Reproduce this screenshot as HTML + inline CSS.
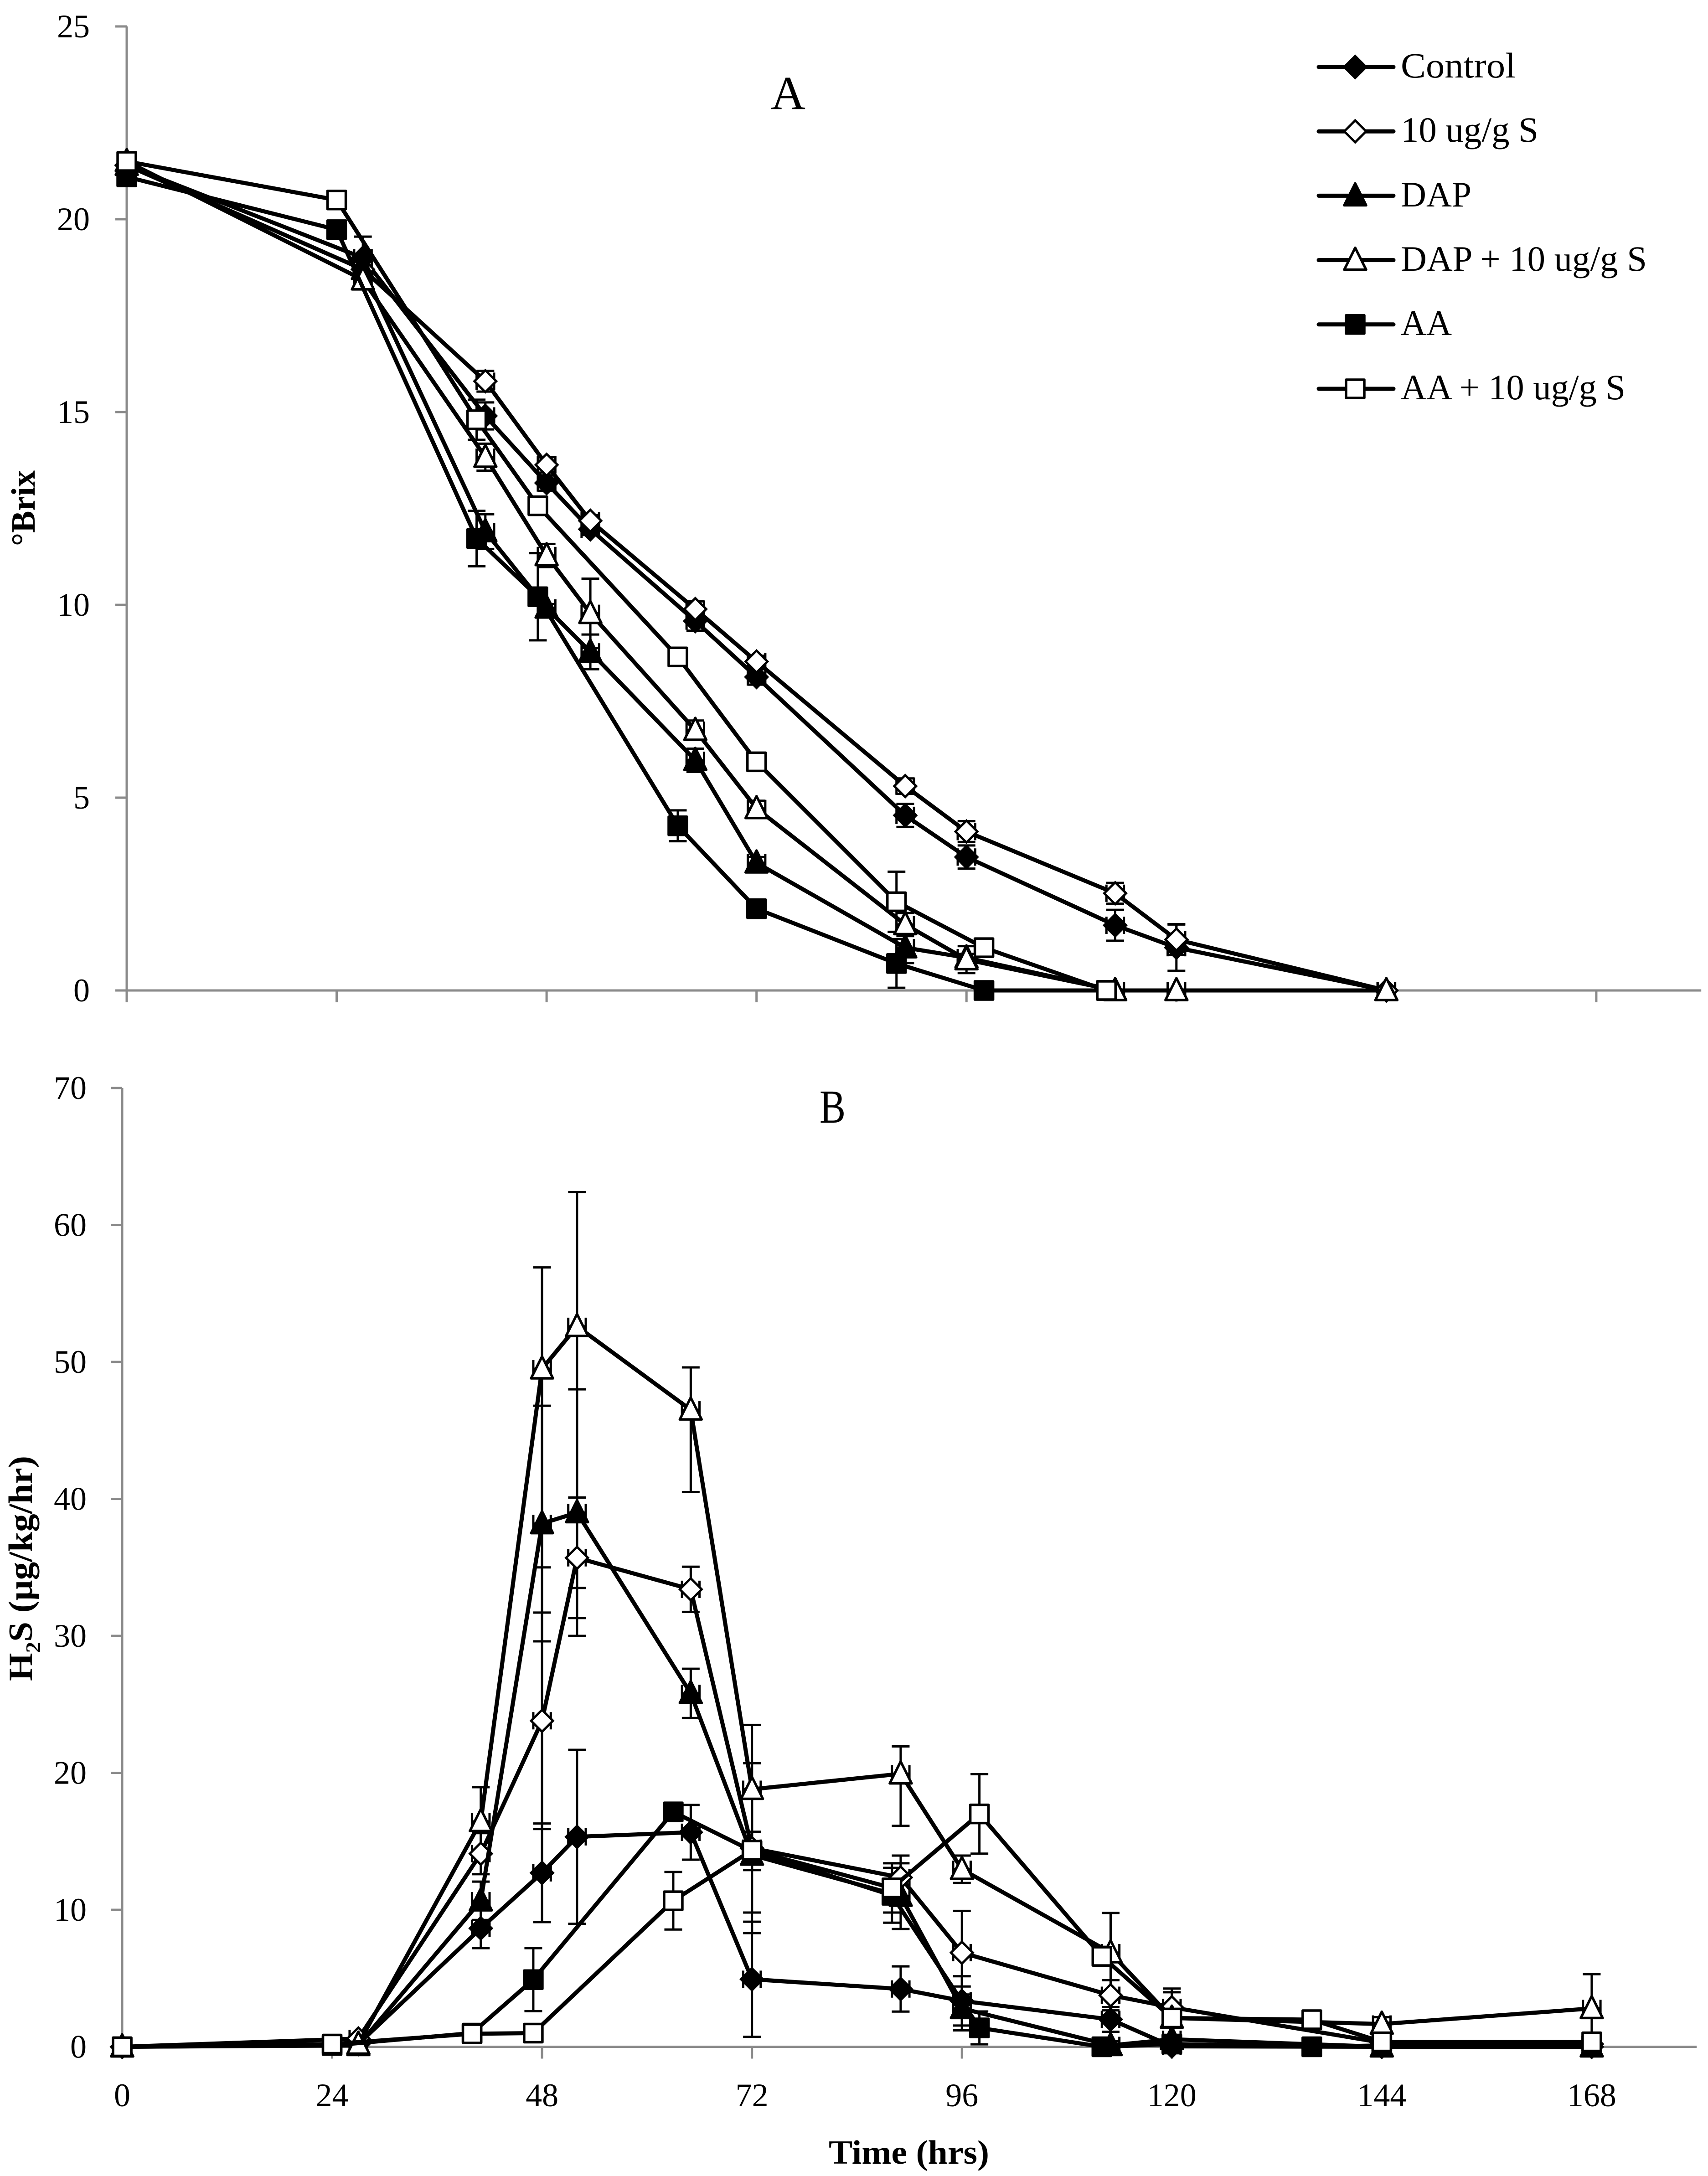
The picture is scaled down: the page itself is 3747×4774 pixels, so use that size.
<!DOCTYPE html>
<html>
<head>
<meta charset="utf-8">
<title>Brix and H2S over time</title>
<style>
html,body{margin:0;padding:0;background:#fff}
svg{display:block}
text{font-family:"Liberation Serif",serif;fill:#000}
</style>
</head>
<body>
<svg id="chart" xmlns="http://www.w3.org/2000/svg" width="3747" height="4774" viewBox="0 0 3747 4774">
<rect x="0" y="0" width="3747" height="4774" fill="#fff"/>
<text x="1691" y="239" font-size="104" textLength="76" lengthAdjust="spacingAndGlyphs">A</text>
<text x="1798" y="2463" font-size="104" textLength="57" lengthAdjust="spacingAndGlyphs">B</text>
<text transform="translate(76,1198) rotate(-90)" font-size="74" font-weight="bold" textLength="166" lengthAdjust="spacingAndGlyphs">°Brix</text>
<text transform="translate(70,3688) rotate(-90)" font-size="74" font-weight="bold" textLength="494" lengthAdjust="spacingAndGlyphs">H<tspan dy="18" font-size="46">2</tspan><tspan dy="-18">S (µg/kg/hr)</tspan></text>
<text x="1818" y="4747" font-size="74" font-weight="bold" textLength="352" lengthAdjust="spacingAndGlyphs">Time (hrs)</text>
<g id="plots"></g>
<g id="legend"></g>
<text x="3073" y="170" font-size="78" textLength="252" lengthAdjust="spacingAndGlyphs">Control</text>
<text x="3073" y="311" font-size="78" textLength="302" lengthAdjust="spacingAndGlyphs">10 ug/g S</text>
<text x="3073" y="453" font-size="78" textLength="155" lengthAdjust="spacingAndGlyphs">DAP</text>
<text x="3073" y="594" font-size="78" textLength="540" lengthAdjust="spacingAndGlyphs">DAP + 10 ug/g S</text>
<text x="3073" y="735" font-size="78" textLength="112" lengthAdjust="spacingAndGlyphs">AA</text>
<text x="3073" y="876" font-size="78" textLength="493" lengthAdjust="spacingAndGlyphs">AA + 10 ug/g S</text>
</svg>
<script>
// Sampling times (hours)
const brixTimesDiamondTriangle = [0,27,41,48,53,65,72,89,96,113,120,144];
const brixTimesSquare = [0,24,40,47,63,72,88,98,112];
const h2sTimesDiamondTriangle = [0,27,41,48,52,65,72,89,96,113,120,144,168];
const h2sTimesSquare = [0,24,40,47,63,72,88,98,112,120,136,144,168];

// Panel A: degrees Brix and y error (single value = symmetric)
const brixControl = [21.4,19.0,14.9,13.16,11.96,9.58,8.13,4.54,3.46,1.69,1.11,0];
const brixControlErr = [0,0.55,0.35,0.2,0.15,0.25,0.2,0.3,0.3,0.4,0.6,0];
const brixS10 = [21.4,18.7,15.8,13.63,12.18,9.89,8.53,5.3,4.12,2.52,1.32,0];
const brixS10Err = [0,0.1,0.27,0.2,0.15,0.2,0.15,0.2,0.27,0.27,0.4,0];
const brixDap = [21.4,18.7,11.9,9.92,8.78,5.97,3.31,1.11,0.85,0];
const brixDapErr = [0,0.1,0.45,0.1,0.45,0.3,0.15,0.4,0.1,0];
const brixDapS10 = [21.5,18.43,13.83,11.28,9.78,6.75,4.72,1.71,0.8,0,0,0];
const brixDapS10Err = [0,0.15,0.35,0.3,0.9,0.25,0.2,0.3,0.35,0,0,0];
const brixAa = [21.1,19.73,11.72,10.21,4.27,2.12,0.7,0,0];
const brixAaErr = [0,0.1,0.72,1.13,0.4,0.15,0.63,0,0];
const brixAaS10 = [21.5,20.5,14.8,12.57,8.65,5.93,2.3,1.11,0];
const brixAaS10Err = [0,0.1,0.52,0.15,0.1,0.1,0.78,0.1,0];

// Panel B: H2S rate and y error ([up, down] where the bars are uneven)
const h2sControl = [0,0.2,8.65,12.7,15.33,15.66,4.93,4.22,3.35,2,0.03,0,0];
const h2sControlErr = [0,0.1,1.45,3.6,6.35,2,4.2,1.65,1.8,0.9,0.3,0,0];
const h2sS10 = [0,0.6,14.1,23.8,35.7,33.4,14.5,12.36,6.87,3.76,2.88,0.3,0.2];
const h2sS10Err = [0,0.2,1.5,7.9,4.4,1.65,6.2,1.6,3.05,1.1,1.1,0,0];
const h2sDap = [0,0.1,10.66,38.2,39,25.8,14,11,2.8,0.1,0.55,0,0];
const h2sDapErr = [0,0.1,1.4,8.6,9,1.8,4.2,2.4,1.6,0.3,0.3,0,0];
const h2sDapS10 = [0,0.2,16.45,49.5,52.6,46.5,18.8,19.93,12.96,6.87,2.1,1.66,2.8];
const h2sDapS10Err = [0,0.1,2.5,[7.4,14.5],[9.8,19.1],[3.1,6],4.7,[2,3.8],1,2.9,2.15,0.5,2.5];
const h2sAa = [0,0.1,1,4.9,17.15,14.3,11.06,1.38,0,0.2,0,0.1,0.1];
const h2sAaErr = [0,0,0.2,2.3,0.4,1.4,2,1.2,0,0.2,0,0,0];
const h2sAaS10 = [0,0.2,0.95,1,10.66,14.35,11.6,17,6.6,2.1,1.98,0.36,0.36];
const h2sAaS10Err = [0,0,0.1,0.1,2.1,0.5,1.8,2.9,0.7,0.3,0,0,0];

// Axis ticks and labels
const brixTicks = [0,5,10,15,20,25];
const h2sTicks = [0,10,20,30,40,50,60,70];
const timeTicks = [0,24,48,72,96,120,144,168];
const timeErrorHours = 1;

const SVGNS = 'http://www.w3.org/2000/svg';
function el(parent, tag, attrs) {
  const n = document.createElementNS(SVGNS, tag);
  for (const k in attrs) n.setAttribute(k, attrs[k]);
  parent.appendChild(n);
  return n;
}
function xA(t) { return 278 + t * 19.19; }
function yA(v) { return 2173 - v * 84.6; }
function xB(t) { return 268 + t * 19.19; }
function yB(v) { return 4490.5 - v * 30.05; }

function drawMarker(parent, shape, filled, x, y) {
  const fill = filled ? '#000' : '#fff';
  let m;
  if (shape === 'square') {
    m = el(parent, 'rect', {x: x - 20, y: y - 20, width: 40, height: 40, fill: fill, stroke: '#000', 'stroke-width': 5.5, 'stroke-linejoin': 'round'});
  } else if (shape === 'diamond') {
    const pts = [[0,-24],[24,0],[0,24],[-24,0]];
    m = el(parent, 'polygon', {points: pts.map(p => (x + p[0]) + ',' + (y + p[1])).join(' '), fill: fill, stroke: '#000', 'stroke-width': 5, 'stroke-linejoin': 'miter'});
  } else {
    const pts = [[0,-27],[24,21],[-24,21]];
    m = el(parent, 'polygon', {points: pts.map(p => (x + p[0]) + ',' + (y + p[1])).join(' '), fill: fill, stroke: '#000', 'stroke-width': 5.5, 'stroke-linejoin': 'round'});
  }
  return m;
}

function drawAxes(root, px, py, yTicks, xEndHours, yEndValue, tickLabelRight, showXLabels) {
  const g = el(root, 'g', {});
  
  
  const gray = '#8a8a8a';
  const yLine = el(g, 'line', {x1: px(0), x2: px(0), y1: py(yEndValue), y2: py(0), stroke: gray, 'stroke-width': 5});
  
  
  const xLine = el(g, 'line', {x1: px(0), x2: px(xEndHours), y1: py(0), y2: py(0), stroke: gray, 'stroke-width': 5});
  
  
  yTicks.forEach(function (v) {
    const t = el(g, 'line', {x1: px(0) - 25, x2: px(0), y1: py(v), y2: py(v), stroke: gray, 'stroke-width': 5});
    
    
    const lab = el(g, 'text', {x: tickLabelRight, y: py(v) + 24, 'font-size': 72, 'text-anchor': 'end'});
    
    
    lab.textContent = String(v);
  });
  timeTicks.forEach(function (h) {
    const t = el(g, 'line', {x1: px(h), x2: px(h), y1: py(0), y2: py(0) + 26, stroke: gray, 'stroke-width': 5});
    
    
    if (showXLabels) {
      const lab = el(g, 'text', {x: px(h), y: 4621, 'font-size': 72, 'text-anchor': 'middle'});
      
      
      lab.textContent = String(h);
    }
  });
}

function drawPanel(root, panelName, px, py, series) {
  const panel = el(root, 'g', {});
  
  
  const bars = el(panel, 'g', {stroke: '#000', 'stroke-width': 5, fill: 'none'});
  
  
  series.forEach(function (s) {
    s.values.forEach(function (v, i) {
      const x = px(s.times[i]);
      const y = py(v);
      const e = s.errs[i];
      const up = Array.isArray(e) ? e[0] : e;
      const down = Array.isArray(e) ? e[1] : e;
      const dx = px(s.times[i] + timeErrorHours) - x;
      const hBar = el(bars, 'path', {d: 'M' + (x - dx) + ' ' + (y - 19) + 'v38M' + (x + dx) + ' ' + (y - 19) + 'v38M' + (x - dx) + ' ' + y + 'H' + (x + dx)});
      
      
      if (up > 0 || down > 0) {
        const top = py(v + up);
        const bot = py(v - down);
        const vBar = el(bars, 'path', {d: 'M' + x + ' ' + top + 'V' + bot + 'M' + (x - 19.5) + ' ' + top + 'h39M' + (x - 19.5) + ' ' + bot + 'h39'});
        
        
      }
    });
  });
  series.forEach(function (s) {
    const g = el(panel, 'g', {});
    
    
    const pts = s.values.map(function (v, i) { return px(s.times[i]) + ',' + py(v); }).join(' ');
    const line = el(g, 'polyline', {points: pts, fill: 'none', stroke: '#000', 'stroke-width': 9, 'stroke-linejoin': 'round'});
    
    
    s.values.forEach(function (v, i) {
      const m = drawMarker(g, s.shape, s.filled, px(s.times[i]), py(v));
      
      
    });
  });
}

const plots = document.getElementById('plots');
drawAxes(plots, xA, yA, brixTicks, 180, 25, 197, false);
drawAxes(plots, xB, yB, h2sTicks, 180, 70, 190, true);

drawPanel(plots, 'panel-a-brix', xA, yA, [
  {key: 'control', shape: 'diamond', filled: true, times: brixTimesDiamondTriangle, values: brixControl, errs: brixControlErr},
  {key: '10-ug-s', shape: 'diamond', filled: false, times: brixTimesDiamondTriangle, values: brixS10, errs: brixS10Err},
  {key: 'dap', shape: 'triangle', filled: true, times: brixTimesDiamondTriangle, values: brixDap, errs: brixDapErr},
  {key: 'dap-10-ug-s', shape: 'triangle', filled: false, times: brixTimesDiamondTriangle, values: brixDapS10, errs: brixDapS10Err},
  {key: 'aa', shape: 'square', filled: true, times: brixTimesSquare, values: brixAa, errs: brixAaErr},
  {key: 'aa-10-ug-s', shape: 'square', filled: false, times: brixTimesSquare, values: brixAaS10, errs: brixAaS10Err}
]);
drawPanel(plots, 'panel-b-h2s', xB, yB, [
  {key: 'control', shape: 'diamond', filled: true, times: h2sTimesDiamondTriangle, values: h2sControl, errs: h2sControlErr},
  {key: '10-ug-s', shape: 'diamond', filled: false, times: h2sTimesDiamondTriangle, values: h2sS10, errs: h2sS10Err},
  {key: 'dap', shape: 'triangle', filled: true, times: h2sTimesDiamondTriangle, values: h2sDap, errs: h2sDapErr},
  {key: 'dap-10-ug-s', shape: 'triangle', filled: false, times: h2sTimesDiamondTriangle, values: h2sDapS10, errs: h2sDapS10Err},
  {key: 'aa', shape: 'square', filled: true, times: h2sTimesSquare, values: h2sAa, errs: h2sAaErr},
  {key: 'aa-10-ug-s', shape: 'square', filled: false, times: h2sTimesSquare, values: h2sAaS10, errs: h2sAaS10Err}
]);

const legendRoot = document.getElementById('legend');
[['diamond', true], ['diamond', false], ['triangle', true], ['triangle', false], ['square', true], ['square', false]].forEach(function (spec, i) {
  const y = 147 + i * 141.2;
  const line = el(legendRoot, 'line', {x1: 2893, x2: 3057, y1: y, y2: y, stroke: '#000', 'stroke-width': 9, 'stroke-linecap': 'round'});
  
  
  const m = drawMarker(legendRoot, spec[0], spec[1], 2973, y);
  
  
});
</script>
</body>
</html>
